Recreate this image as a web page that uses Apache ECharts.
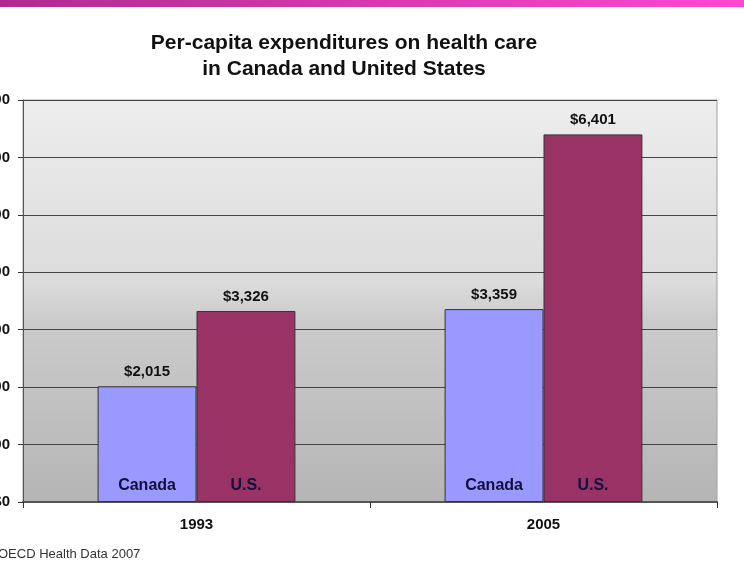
<!DOCTYPE html>
<html>
<head>
<meta charset="utf-8">
<script src="https://cdn.jsdelivr.net/npm/echarts@6/dist/echarts.min.js"></script>
<style>html,body{margin:0;padding:0;background:#fff;}#c{width:744px;height:580px;}</style>
</head>
<body>
<div id="c"></div>
<script>
const years = ['1993', '2005'];
const canada = [2015, 3359];
const us = [3326, 6401];
const seriesNames = ['Canada', 'U.S.'];
const yMin = 0, yMax = 7000, yStep = 1000;
const titleLines = ['Per-capita expenditures on health care', 'in Canada and United States'];
const sourceText = 'OECD Health Data 2007';

const fmt = v => '$' + Number(v).toLocaleString('en-US');
const chart = echarts.init(document.getElementById('c'), null, {renderer: 'canvas'});

const valueLabel = {show: true, position: 'top', distance: 7, formatter: p => fmt(p.value),
  fontFamily: 'Liberation Sans, Arial, sans-serif', fontWeight: 'bold', fontSize: 15, color: '#111'};
const nameLabel = {show: true, position: 'insideBottom', distance: 8, formatter: p => p.seriesName,
  fontFamily: 'Liberation Sans, Arial, sans-serif', fontWeight: 'bold', fontSize: 16, color: '#10103a'};

chart.setOption({
  animation: false,
  backgroundColor: '#fff',
  graphic: [
    {type: 'rect', left: 0, top: 0, shape: {x: 0, y: 0, width: 744, height: 7}, silent: true,
     style: {fill: new echarts.graphic.LinearGradient(0, 0, 1, 0, [{offset: 0, color: '#b02a8f'}, {offset: 1, color: '#ff48d2'}])}},
    {type: 'text', x: 344, y: 30, silent: true,
     style: {text: titleLines.join('\n'), align: 'center', verticalAlign: 'top', lineHeight: 26,
       font: 'bold 21px "Liberation Sans", Arial, sans-serif', fill: '#111'}},
    {type: 'text', x: -2, y: 548, silent: true,
     style: {text: sourceText, font: '13px "Liberation Sans", Arial, sans-serif', fill: '#333'}}
  ],
  grid: {left: 23, right: 27, top: 100, bottom: 78, containLabel: false, outerBoundsMode: 'none',
    show: true, borderColor: '#a0a0a0', borderWidth: 1,
    backgroundColor: new echarts.graphic.LinearGradient(0, 0, 0, 1, [
      {offset: 0, color: '#ededed'}, {offset: 0.45, color: '#dcdcdc'}, {offset: 0.55, color: '#cbcbcb'}, {offset: 1, color: '#b5b5b5'}])},
  xAxis: [
    {type: 'category', data: years, axisLine: {lineStyle: {color: '#555', width: 2}},
     axisTick: {show: true, length: 6, lineStyle: {color: '#333'}},
     axisLabel: {margin: 15, fontFamily: 'Liberation Sans, Arial, sans-serif', fontWeight: 'bold', fontSize: 15, color: '#111'}},
    {type: 'category', data: years, show: false}
  ],
  yAxis: {type: 'value', min: yMin, max: yMax, interval: yStep,
    axisLine: {show: true, lineStyle: {color: '#555', width: 1}},
    axisTick: {show: true, length: 5, lineStyle: {color: '#333'}},
    splitLine: {lineStyle: {color: '#444', width: 1}},
    axisLabel: {margin: 13, formatter: fmt, fontFamily: 'Liberation Sans, Arial, sans-serif', fontWeight: 'bold', fontSize: 15, color: '#111'}},
  series: [
    {name: seriesNames[0], type: 'bar', data: canada, barGap: 0, barCategoryGap: '43%', xAxisIndex: 0,
     itemStyle: {color: '#9999ff', borderColor: '#333', borderWidth: 1}, label: valueLabel},
    {name: seriesNames[1], type: 'bar', data: us, xAxisIndex: 0,
     itemStyle: {color: '#993366', borderColor: '#333', borderWidth: 1}, label: valueLabel},
    {name: seriesNames[0], type: 'bar', data: canada, barGap: 0, barCategoryGap: '43%', xAxisIndex: 1, silent: true,
     itemStyle: {color: 'rgba(0,0,0,0)'}, label: nameLabel},
    {name: seriesNames[1], type: 'bar', data: us, xAxisIndex: 1, silent: true,
     itemStyle: {color: 'rgba(0,0,0,0)'}, label: nameLabel}
  ]
});
</script>
</body>
</html>
